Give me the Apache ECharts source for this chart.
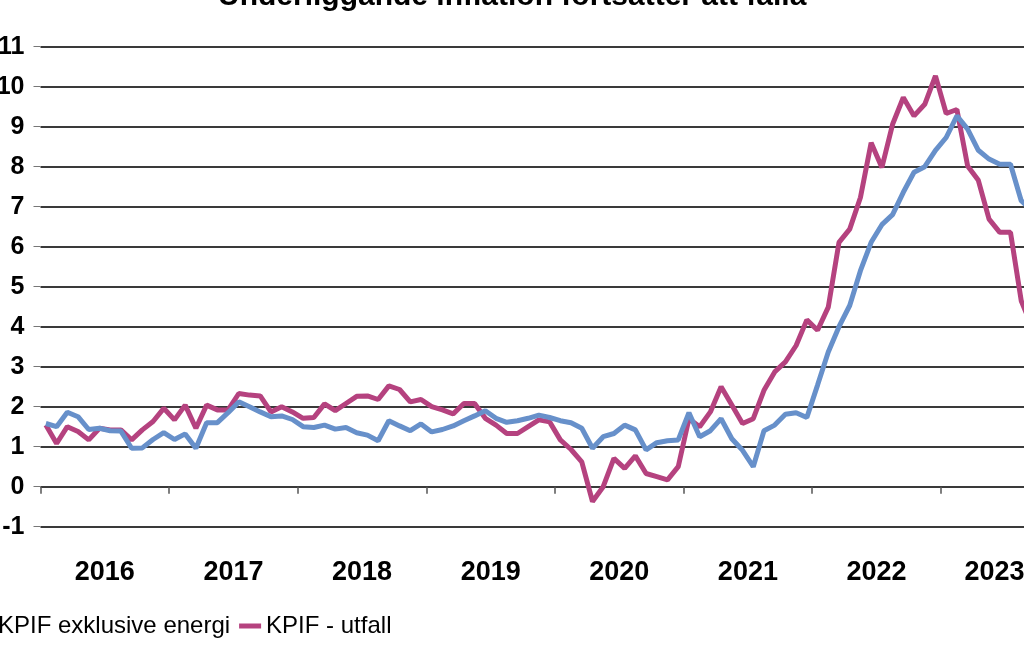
<!DOCTYPE html>
<html>
<head>
<meta charset="utf-8">
<title>Underliggande inflation fortsätter att falla</title>
<script src="https://cdn.jsdelivr.net/npm/echarts@6/dist/echarts.min.js"></script>
<style>
  html, body { margin: 0; padding: 0; background: #fff; overflow: hidden; }
  /* the chart is wider than the window: the picture is cropped on the right */
  #chart { width: 1048px; height: 657px; }
</style>
</head>
<body>
<div id="chart"></div>
<script>
// years on the x axis, one category per month (Jan 2016 - Oct 2023)
var years = [2016, 2017, 2018, 2019, 2020, 2021, 2022, 2023];
var monthsInLastYear = 10;

var seriesNames = ['KPIF exklusive energi', 'KPIF - utfall'];

// KPIF exklusive energi, yearly change in percent
var kpifExEnergi = [
  1.58, 1.5, 1.86, 1.75, 1.43, 1.46, 1.4, 1.39, 0.96, 0.97, 1.18, 1.35,
  1.18, 1.32, 0.96, 1.6, 1.6, 1.85, 2.12, 2.0, 1.87, 1.75, 1.77, 1.68,
  1.5, 1.48, 1.54, 1.44, 1.48, 1.35, 1.29, 1.15, 1.65, 1.52, 1.4, 1.57,
  1.37, 1.43, 1.52, 1.65, 1.77, 1.9, 1.71, 1.61, 1.65, 1.71, 1.79, 1.73,
  1.65, 1.6, 1.46, 0.96, 1.25, 1.33, 1.54, 1.42, 0.92, 1.1, 1.15, 1.17,
  1.85, 1.25, 1.4, 1.7, 1.2, 0.91, 0.5, 1.4, 1.54, 1.81, 1.85, 1.73,
  2.54, 3.37, 4.0, 4.53, 5.4, 6.11, 6.55, 6.8, 7.36, 7.86, 8.0, 8.41,
  8.73, 9.27, 8.94, 8.41, 8.19, 8.06, 8.06, 7.15, 6.9, 6.1
];

// KPIF - utfall
var kpifUtfall = [
  1.54, 1.08, 1.5, 1.38, 1.17, 1.46, 1.42, 1.42, 1.17, 1.42, 1.63, 1.96,
  1.67, 2.04, 1.46, 2.04, 1.92, 1.92, 2.33, 2.29, 2.27, 1.87, 2.0, 1.87,
  1.71, 1.73, 2.07, 1.9, 2.08, 2.26, 2.27, 2.18, 2.52, 2.43, 2.12, 2.18,
  2.0, 1.92, 1.82, 2.08, 2.08, 1.71, 1.54, 1.33, 1.33, 1.5, 1.67, 1.62,
  1.17, 0.93, 0.62, -0.37, 0.0, 0.71, 0.46, 0.77, 0.33, 0.25, 0.17, 0.5,
  1.7, 1.5, 1.87, 2.5, 2.04, 1.58, 1.7, 2.41, 2.87, 3.12, 3.53, 4.17,
  3.91, 4.49, 6.11, 6.44, 7.23, 8.6, 7.98, 9.06, 9.73, 9.27, 9.56, 10.27,
  9.33, 9.43, 8.02, 7.66, 6.69, 6.36, 6.36, 4.65, 4.0, 4.2
];

var months = [];
years.forEach(function (y, k) {
  var n = (k === years.length - 1) ? monthsInLastYear : 12;
  for (var m = 1; m <= n; m++) {
    months.push(y + '-' + (m < 10 ? '0' + m : m));
  }
});

// label sits in the middle of each year's months
function isYearLabel(index) {
  var yearIdx = Math.floor(index / 12);
  var n = (yearIdx === years.length - 1) ? monthsInLastYear : 12;
  return index % 12 === Math.floor((n - 1) / 2);
}

var myChart = echarts.init(document.getElementById('chart'), null, { renderer: 'canvas' });

var option = {
  animation: false,
  backgroundColor: '#fff',
  textStyle: { fontFamily: 'Liberation Sans, Arial, sans-serif' },
  title: {
    text: 'Underliggande inflation fortsätter att falla',
    left: 213,
    top: -23,
    textStyle: { fontSize: 30, fontWeight: 'bold', color: '#000' }
  },
  legend: {
    data: seriesNames,
    left: -34,
    top: 609,
    icon: 'rect',
    itemWidth: 22,
    itemHeight: 5,
    itemGap: 9,
    textStyle: { fontSize: 24, color: '#000' }
  },
  grid: {
    left: 40.5,
    right: 0,
    top: 46.7,
    height: 480,
    containLabel: false,
    outerBoundsMode: 'none'
  },
  xAxis: {
    type: 'category',
    data: months,
    boundaryGap: true,
    offset: 18,
    axisLine: { show: false },
    axisTick: {
      show: true,
      length: 7,
      interval: function (index) { return index % 12 === 0; },
      lineStyle: { color: '#555', width: 1.5 }
    },
    axisLabel: {
      interval: function (index) { return isYearLabel(index); },
      formatter: function (v) { return v.slice(0, 4); },
      margin: 14,
      padding: [0, 0, 0, 10.72],
      fontSize: 27,
      fontWeight: 'bold',
      color: '#000'
    },
    splitLine: { show: false }
  },
  yAxis: {
    type: 'value',
    min: -1,
    max: 11,
    interval: 1,
    axisLine: { show: false },
    axisTick: { show: true, length: 7, lineStyle: { color: '#777', width: 1 } },
    axisLabel: { margin: 16, fontSize: 25, fontWeight: 'bold', color: '#000' },
    splitLine: { show: true, lineStyle: { color: '#3a3a3a', width: 2 } }
  },
  series: [
    {
      name: 'KPIF - utfall',
      type: 'line',
      data: kpifUtfall,
      symbol: 'none',
      color: '#B5427F',
      lineStyle: { width: 5, color: '#B5427F' }
    },
    {
      name: 'KPIF exklusive energi',
      type: 'line',
      data: kpifExEnergi,
      symbol: 'none',
      color: '#6790CA',
      lineStyle: { width: 5, color: '#6790CA' }
    }
  ]
};

myChart.setOption(option);
</script>
</body>
</html>
